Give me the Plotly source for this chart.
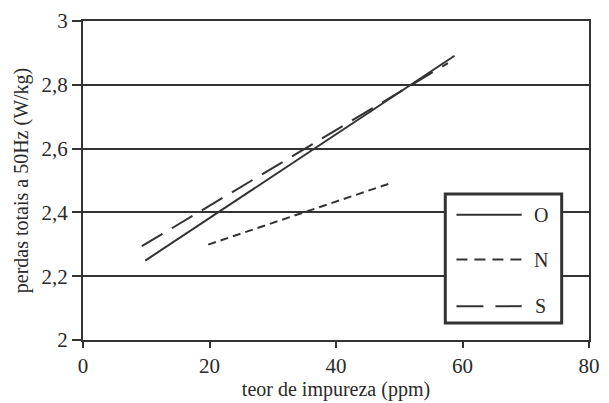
import plotly.graph_objects as go

# Data
series_names = ["O", "N", "S"]
o_x = [9.85, 58.75]
o_y = [2.249, 2.891]
n_x = [19.8, 48.4]
n_y = [2.299, 2.49]
s_x = [9.3, 57.7]
s_y = [2.294, 2.868]
x_ticks = [0, 20, 40, 60, 80]
y_ticks = [2, 2.2, 2.4, 2.6, 2.8, 3]

INK = "#333333"
TXT = "#2a2a2a"
FONT = "'Liberation Serif', 'Times New Roman', serif"
dashes = {"O": "solid", "N": "8px,5px", "S": "24px,11px"}

fig = go.Figure()
for name, xs, ys in [("O", o_x, o_y), ("N", n_x, n_y), ("S", s_x, s_y)]:
    fig.add_trace(go.Scatter(x=xs, y=ys, mode="lines", name=name,
                             line=dict(color=INK, width=2, dash=dashes[name]),
                             showlegend=False))

# Manual legend box (paper coordinates)
shapes = [dict(type="rect", xref="paper", yref="paper", x0=0.716, x1=0.946, y0=0.053, y1=0.458,
               line=dict(color=INK, width=3), fillcolor="white", layer="above")]
annotations = []
leg_rows = [("O", 0.393, "solid"), ("N", 0.252, "11px,7px"), ("S", 0.106, "27px,12px")]
for name, yp, d in leg_rows:
    shapes.append(dict(type="line", xref="paper", yref="paper", x0=0.738, x1=0.867, y0=yp, y1=yp,
                       line=dict(color=INK, width=2, dash=d), layer="above"))
    annotations.append(dict(xref="paper", yref="paper", x=0.905, y=yp, text=name, showarrow=False,
                            font=dict(family=FONT, size=20, color=TXT), xanchor="center", yanchor="middle"))

fig.update_layout(
    width=609, height=403,
    margin=dict(l=83, r=9, t=21, b=61),
    paper_bgcolor="white", plot_bgcolor="white",
    separators=",.",
    font=dict(family=FONT, color=TXT),
    shapes=shapes, annotations=annotations,
    xaxis=dict(range=[0, 80], tickvals=x_ticks, showgrid=False, zeroline=False,
               showline=True, linecolor=INK, linewidth=2, mirror=True,
               ticks="outside", ticklen=6, tickwidth=2, tickcolor=INK,
               tickfont=dict(family=FONT, size=21, color=TXT),
               title=dict(text="teor de impureza (ppm)", font=dict(family=FONT, size=20, color=TXT), standoff=2)),
    yaxis=dict(range=[2, 3], tickvals=y_ticks, showgrid=True, gridcolor=INK, gridwidth=2, zeroline=False,
               showline=True, linecolor=INK, linewidth=2, mirror=True,
               ticks="outside", ticklen=9, tickwidth=2, tickcolor=INK,
               tickfont=dict(family=FONT, size=21, color=TXT),
               title=dict(text="perdas totais a 50Hz (W/kg)", font=dict(family=FONT, size=20, color=TXT), standoff=8)),
)

fig.write_html("out.html")
